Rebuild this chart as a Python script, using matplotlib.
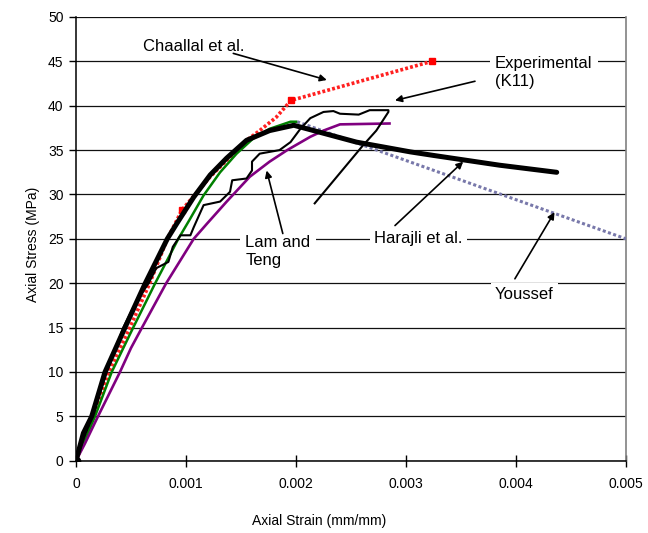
import matplotlib
matplotlib.use("Agg")
import matplotlib.pyplot as plt

plt.rcParams['font.family'] = ['Liberation Sans', 'DejaVu Sans']

# ---- data (strain mm/mm, stress MPa) ----
exp_x = [0, 0.00007, 0.00015, 0.00028, 0.00043, 0.00055, 0.00066, 0.00073, 0.00084, 0.00088,
         0.00095, 0.00104, 0.00107, 0.00116, 0.00131, 0.0014, 0.00142, 0.00155, 0.0016, 0.0016,
         0.00167, 0.00185, 0.00195, 0.00204, 0.00213, 0.00225, 0.00234, 0.0024, 0.00257, 0.00267,
         0.00284, 0.00284, 0.00273, 0.0026, 0.00217]
exp_y = [0, 2.5, 5, 10, 15, 18, 20, 21.7, 22.4, 24.1,
         25.4, 25.4, 26.3, 28.8, 29.2, 30.3, 31.6, 31.8, 32.7, 33.7,
         34.6, 35.0, 35.9, 37.4, 38.6, 39.3, 39.4, 39.1, 39.0, 39.5,
         39.5, 39.3, 37.2, 35.4, 29.0]

harajli_x = [0, 0.000067, 0.000143, 0.000264, 0.000445, 0.00063, 0.00083, 0.000915, 0.00107,
             0.00122, 0.00137, 0.00155, 0.00176, 0.00198, 0.00225, 0.00255, 0.00304, 0.00325,
             0.00385, 0.00437]
harajli_y = [0, 3.1, 5, 10, 15, 20, 25, 26.7, 29.7, 32.2, 34.1, 36.1, 37.2, 37.8, 36.9, 35.9,
             34.8, 34.4, 33.3, 32.5]

green_x = [0, 0.000173, 0.000325, 0.00052, 0.00072, 0.00093, 0.00103, 0.00116, 0.00131,
           0.00146, 0.00161, 0.00176, 0.00195, 0.002]
green_y = [0, 5, 10, 15, 20, 25, 27.1, 29.9, 32.5, 34.6, 36.3, 37.4, 38.2, 38.2]

lam_x = [0, 0.00008, 0.0002, 0.0004, 0.0005, 0.0006, 0.00082, 0.00107, 0.00119, 0.00137,
         0.00158, 0.00176, 0.00192, 0.00213, 0.00225, 0.0024, 0.00285]
lam_y = [0, 1.9, 5, 10, 12.7, 15, 20, 25, 26.7, 29.2, 32.0, 33.7, 35.0, 36.5, 37.2, 37.9, 38.0]

chaallal_x = [0, 0.00016, 0.0003, 0.00049, 0.00067, 0.00083, 0.000966, 0.00122, 0.00155,
              0.00167, 0.00182, 0.001955, 0.003234]
chaallal_y = [0, 5, 10, 15, 20, 25, 28.3, 32.0, 36.1, 37.2, 38.7, 40.6, 45.0]
chaallal_marks = [6, 11, 12]

youssef_x = [0.00201, 0.005]
youssef_y = [38.2, 25.0]

x_ticks = [0, 0.001, 0.002, 0.003, 0.004, 0.005]
x_tick_labels = ['0', '0.001', '0.002', '0.003', '0.004', '0.005']
y_ticks = [0, 5, 10, 15, 20, 25, 30, 35, 40, 45, 50]

# ---- figure ----
W, H = 648, 533
fig = plt.figure(figsize=(W / 100, H / 100), dpi=100)
L, R, T, B = 76, 626, 17, 460.7
ax = fig.add_axes([L / W, 1 - B / H, (R - L) / W, (B - T) / H])

ax.set_xlim(0, 0.005)
ax.set_ylim(0, 50)
ax.set_xticks(x_ticks)
ax.set_xticklabels(x_tick_labels)
ax.set_yticks(y_ticks)
ax.tick_params(axis='x', direction='inout', length=8, width=1, labelsize=10, pad=8)
ax.tick_params(axis='y', direction='out', length=5, width=1, labelsize=10, pad=4)
ax.yaxis.grid(True, color='#111111', linewidth=0.9)
ax.set_axisbelow(True)
for s in ['left', 'bottom']:
    ax.spines[s].set_color('black')
    ax.spines[s].set_linewidth(1.1)
ax.spines['right'].set_color('#808080')
ax.spines['right'].set_linewidth(1.2)
ax.spines['top'].set_visible(False)

# curves
ax.plot(youssef_x, youssef_y, color='#7878aa', lw=2.2, dashes=(1, 0.8), zorder=3)
ax.plot(chaallal_x, chaallal_y, color='#ff2020', lw=2.6, dashes=(0.8, 0.6), zorder=3)
ax.plot([chaallal_x[i] for i in chaallal_marks], [chaallal_y[i] for i in chaallal_marks],
        linestyle='none', marker='s', ms=4.5, color='#ff0000', zorder=3)
ax.plot(green_x, green_y, color='#008000', lw=1.8, zorder=4)
ax.plot(lam_x, lam_y, color='#800080', lw=1.9, zorder=4)
ax.plot(exp_x, exp_y, color='black', lw=1.5, zorder=5)
ax.plot(harajli_x, harajli_y, color='black', lw=3.6, zorder=6, solid_capstyle='round',
        solid_joinstyle='round')
ax.plot([0], [0], marker='o', ms=6, color='black', zorder=6)

# annotations
box = dict(facecolor='white', edgecolor='none', pad=3)
arrow = dict(arrowstyle='-|>', color='black', lw=1.2, mutation_scale=10, shrinkA=0, shrinkB=0)

ax.text(0.00107, 46.7, 'Chaallal et al.', fontsize=12, ha='center', va='center', bbox=box, zorder=7)
ax.annotate('', xy=(0.00228, 42.9), xytext=(0.00143, 45.9), arrowprops=arrow, zorder=7)

ax.text(0.00381, 43.8, 'Experimental\n(K11)', fontsize=12, ha='left', va='center',
        linespacing=1.25, bbox=dict(facecolor='white', edgecolor='none', pad=4), zorder=7)
ax.annotate('', xy=(0.0029, 40.6), xytext=(0.003627, 42.76), arrowprops=arrow, zorder=7)

ax.text(0.00154, 23.6, 'Lam and\nTeng', fontsize=12, ha='left', va='center',
        linespacing=1.25, bbox=dict(facecolor='white', edgecolor='none', pad=4), zorder=7)
ax.annotate('', xy=(0.001733, 32.7), xytext=(0.00188, 25.6), arrowprops=arrow, zorder=7)

ax.text(0.00271, 25.0, 'Harajli et al.', fontsize=12, ha='left', va='center', bbox=box, zorder=7)
ax.annotate('', xy=(0.00352, 33.7), xytext=(0.0029, 26.5), arrowprops=arrow, zorder=7)

ax.text(0.00381, 18.7, 'Youssef', fontsize=12, ha='left', va='center', bbox=box, zorder=7)
ax.annotate('', xy=(0.00435, 28.0), xytext=(0.00399, 20.5), arrowprops=arrow, zorder=7)

fig.text(318.7 / W, 1 - 521 / H, 'Axial Strain (mm/mm)', fontsize=10, ha='center', va='center')
fig.text(33 / W, 1 - 244 / H, 'Axial Stress (MPa)', fontsize=10, ha='center', va='center', rotation=90)

fig.savefig('out.png', dpi=100, facecolor='white')
